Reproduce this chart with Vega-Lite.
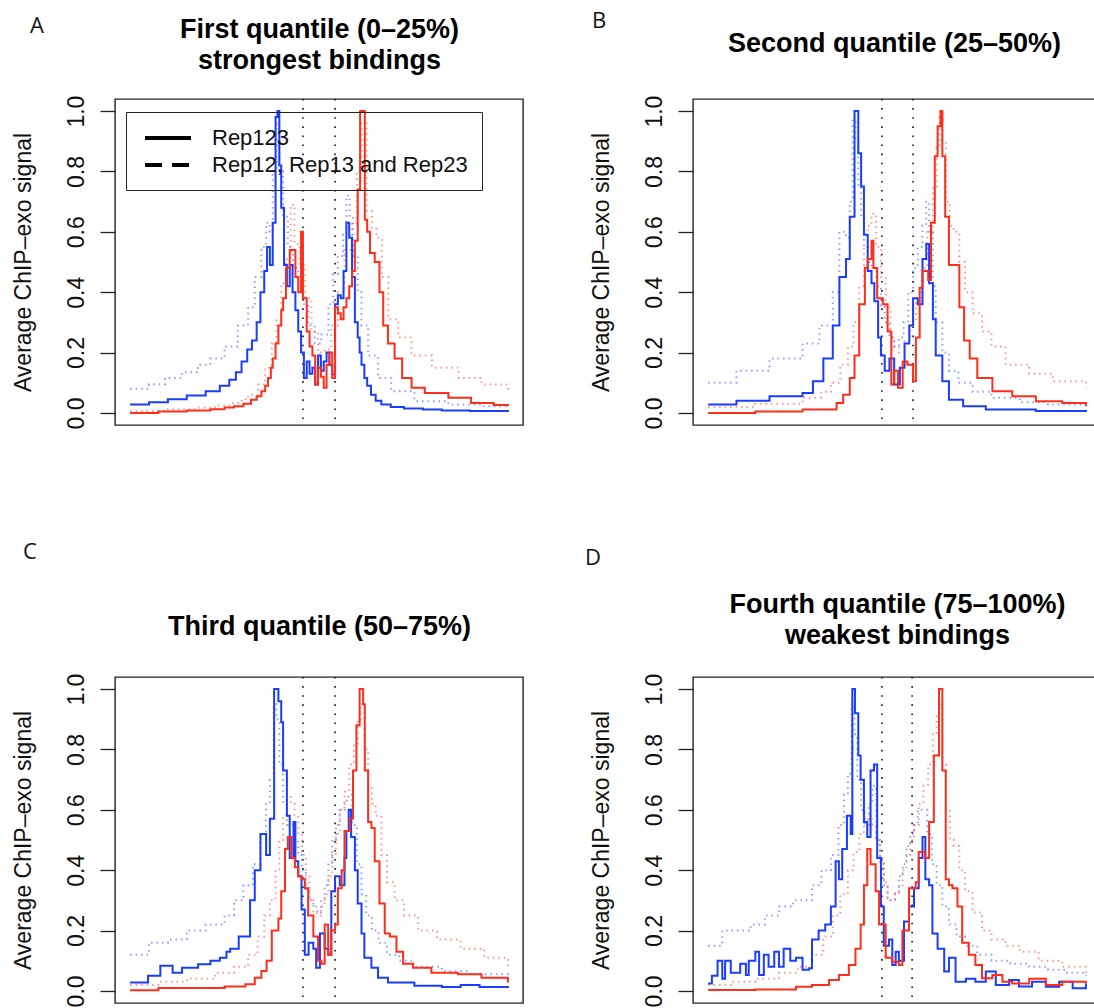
{
"$schema": "https://vega.github.io/schema/vega-lite/v6.json",
"background": "white",
"padding": {"left": 11, "top": 8, "right": 0, "bottom": 0},
"data": {"values": [
{"p":"A","c":"b","t":"d","x":-200,"y":0.08},{"p":"A","c":"b","t":"d","x":-180,"y":0.095},{"p":"A","c":"b","t":"d","x":-163,"y":0.116},{"p":"A","c":"b","t":"d","x":-145,"y":0.135},{"p":"A","c":"b","t":"d","x":-128,"y":0.16},{"p":"A","c":"b","t":"d","x":-115,"y":0.18},{"p":"A","c":"b","t":"d","x":-100,"y":0.22},{"p":"A","c":"b","t":"d","x":-86,"y":0.29},{"p":"A","c":"b","t":"d","x":-75,"y":0.35},{"p":"A","c":"b","t":"d","x":-68,"y":0.45},{"p":"A","c":"b","t":"d","x":-61,"y":0.55},{"p":"A","c":"b","t":"d","x":-56,"y":0.63},{"p":"A","c":"b","t":"d","x":-52,"y":0.6},{"p":"A","c":"b","t":"d","x":-49,"y":0.8},{"p":"A","c":"b","t":"d","x":-45,"y":0.96},{"p":"A","c":"b","t":"d","x":-42,"y":0.8},{"p":"A","c":"b","t":"d","x":-38,"y":0.65},{"p":"A","c":"b","t":"d","x":-33,"y":0.55},{"p":"A","c":"b","t":"d","x":-27.5,"y":0.48},{"p":"A","c":"b","t":"d","x":-22,"y":0.43},{"p":"A","c":"b","t":"d","x":-17,"y":0.36},{"p":"A","c":"b","t":"d","x":-11.5,"y":0.29},{"p":"A","c":"b","t":"d","x":-4.5,"y":0.23},{"p":"A","c":"b","t":"d","x":2.5,"y":0.26},{"p":"A","c":"b","t":"d","x":10,"y":0.36},{"p":"A","c":"b","t":"d","x":15,"y":0.46},{"p":"A","c":"b","t":"d","x":20,"y":0.52},{"p":"A","c":"b","t":"d","x":25.5,"y":0.59},{"p":"A","c":"b","t":"d","x":29,"y":0.72},{"p":"A","c":"b","t":"d","x":32.5,"y":0.65},{"p":"A","c":"b","t":"d","x":36,"y":0.52},{"p":"A","c":"b","t":"d","x":41,"y":0.4},{"p":"A","c":"b","t":"d","x":45,"y":0.29},{"p":"A","c":"b","t":"d","x":52,"y":0.19},{"p":"A","c":"b","t":"d","x":62.5,"y":0.116},{"p":"A","c":"b","t":"d","x":76.5,"y":0.072},{"p":"A","c":"b","t":"d","x":101,"y":0.039},{"p":"A","c":"b","t":"d","x":137,"y":0.028},{"p":"A","c":"b","t":"d","x":172,"y":0.022},{"p":"A","c":"b","t":"d","x":200,"y":0.017},
{"p":"A","c":"r","t":"d","x":-200,"y":0.006},{"p":"A","c":"r","t":"d","x":-160,"y":0.012},{"p":"A","c":"r","t":"d","x":-128,"y":0.017},{"p":"A","c":"r","t":"d","x":-110,"y":0.025},{"p":"A","c":"r","t":"d","x":-93,"y":0.033},{"p":"A","c":"r","t":"d","x":-82,"y":0.045},{"p":"A","c":"r","t":"d","x":-75,"y":0.06},{"p":"A","c":"r","t":"d","x":-64.5,"y":0.094},{"p":"A","c":"r","t":"d","x":-57,"y":0.15},{"p":"A","c":"r","t":"d","x":-50,"y":0.23},{"p":"A","c":"r","t":"d","x":-45,"y":0.31},{"p":"A","c":"r","t":"d","x":-40,"y":0.43},{"p":"A","c":"r","t":"d","x":-35,"y":0.51},{"p":"A","c":"r","t":"d","x":-30,"y":0.69},{"p":"A","c":"r","t":"d","x":-26,"y":0.56},{"p":"A","c":"r","t":"d","x":-20.5,"y":0.49},{"p":"A","c":"r","t":"d","x":-15,"y":0.38},{"p":"A","c":"r","t":"d","x":-8,"y":0.27},{"p":"A","c":"r","t":"d","x":-1,"y":0.2},{"p":"A","c":"r","t":"d","x":6,"y":0.21},{"p":"A","c":"r","t":"d","x":13,"y":0.29},{"p":"A","c":"r","t":"d","x":20,"y":0.4},{"p":"A","c":"r","t":"d","x":27,"y":0.54},{"p":"A","c":"r","t":"d","x":34.5,"y":0.63},{"p":"A","c":"r","t":"d","x":40,"y":0.8},{"p":"A","c":"r","t":"d","x":45,"y":0.96},{"p":"A","c":"r","t":"d","x":50.5,"y":0.67},{"p":"A","c":"r","t":"d","x":56,"y":0.61},{"p":"A","c":"r","t":"d","x":61,"y":0.58},{"p":"A","c":"r","t":"d","x":66.5,"y":0.45},{"p":"A","c":"r","t":"d","x":73.5,"y":0.31},{"p":"A","c":"r","t":"d","x":84,"y":0.25},{"p":"A","c":"r","t":"d","x":98,"y":0.19},{"p":"A","c":"r","t":"d","x":119.5,"y":0.15},{"p":"A","c":"r","t":"d","x":148,"y":0.116},{"p":"A","c":"r","t":"d","x":172,"y":0.094},{"p":"A","c":"r","t":"d","x":200,"y":0.072},
{"p":"A","c":"b","t":"s","x":-200,"y":0.028},{"p":"A","c":"b","t":"s","x":-180,"y":0.035},{"p":"A","c":"b","t":"s","x":-160,"y":0.045},{"p":"A","c":"b","t":"s","x":-140,"y":0.058},{"p":"A","c":"b","t":"s","x":-120,"y":0.072},{"p":"A","c":"b","t":"s","x":-105,"y":0.09},{"p":"A","c":"b","t":"s","x":-95,"y":0.11},{"p":"A","c":"b","t":"s","x":-88,"y":0.135},{"p":"A","c":"b","t":"s","x":-82,"y":0.17},{"p":"A","c":"b","t":"s","x":-76,"y":0.21},{"p":"A","c":"b","t":"s","x":-71,"y":0.24},{"p":"A","c":"b","t":"s","x":-66,"y":0.3},{"p":"A","c":"b","t":"s","x":-62,"y":0.4},{"p":"A","c":"b","t":"s","x":-58,"y":0.47},{"p":"A","c":"b","t":"s","x":-55,"y":0.55},{"p":"A","c":"b","t":"s","x":-52,"y":0.49},{"p":"A","c":"b","t":"s","x":-49,"y":0.63},{"p":"A","c":"b","t":"s","x":-46,"y":0.98},{"p":"A","c":"b","t":"s","x":-44,"y":1.0},{"p":"A","c":"b","t":"s","x":-42,"y":0.82},{"p":"A","c":"b","t":"s","x":-40,"y":0.68},{"p":"A","c":"b","t":"s","x":-37,"y":0.49},{"p":"A","c":"b","t":"s","x":-34,"y":0.42},{"p":"A","c":"b","t":"s","x":-31,"y":0.49},{"p":"A","c":"b","t":"s","x":-28,"y":0.4},{"p":"A","c":"b","t":"s","x":-25,"y":0.34},{"p":"A","c":"b","t":"s","x":-22,"y":0.27},{"p":"A","c":"b","t":"s","x":-19,"y":0.2},{"p":"A","c":"b","t":"s","x":-16,"y":0.116},{"p":"A","c":"b","t":"s","x":-13,"y":0.17},{"p":"A","c":"b","t":"s","x":-10,"y":0.13},{"p":"A","c":"b","t":"s","x":-7,"y":0.15},{"p":"A","c":"b","t":"s","x":-4,"y":0.094},{"p":"A","c":"b","t":"s","x":-1,"y":0.19},{"p":"A","c":"b","t":"s","x":2,"y":0.14},{"p":"A","c":"b","t":"s","x":5,"y":0.17},{"p":"A","c":"b","t":"s","x":8,"y":0.2},{"p":"A","c":"b","t":"s","x":11,"y":0.16},{"p":"A","c":"b","t":"s","x":14,"y":0.127},{"p":"A","c":"b","t":"s","x":17,"y":0.36},{"p":"A","c":"b","t":"s","x":20,"y":0.39},{"p":"A","c":"b","t":"s","x":23,"y":0.38},{"p":"A","c":"b","t":"s","x":26,"y":0.47},{"p":"A","c":"b","t":"s","x":29,"y":0.63},{"p":"A","c":"b","t":"s","x":32,"y":0.58},{"p":"A","c":"b","t":"s","x":35,"y":0.45},{"p":"A","c":"b","t":"s","x":38,"y":0.3},{"p":"A","c":"b","t":"s","x":41,"y":0.25},{"p":"A","c":"b","t":"s","x":43,"y":0.2},{"p":"A","c":"b","t":"s","x":45,"y":0.16},{"p":"A","c":"b","t":"s","x":48,"y":0.116},{"p":"A","c":"b","t":"s","x":51,"y":0.09},{"p":"A","c":"b","t":"s","x":55,"y":0.06},{"p":"A","c":"b","t":"s","x":60,"y":0.04},{"p":"A","c":"b","t":"s","x":66,"y":0.028},{"p":"A","c":"b","t":"s","x":76,"y":0.02},{"p":"A","c":"b","t":"s","x":90,"y":0.015},{"p":"A","c":"b","t":"s","x":110,"y":0.011},{"p":"A","c":"b","t":"s","x":130,"y":0.008},{"p":"A","c":"b","t":"s","x":160,"y":0.006},{"p":"A","c":"b","t":"s","x":200,"y":0.003},
{"p":"A","c":"r","t":"s","x":-200,"y":0.0},{"p":"A","c":"r","t":"s","x":-170,"y":0.005},{"p":"A","c":"r","t":"s","x":-140,"y":0.008},{"p":"A","c":"r","t":"s","x":-115,"y":0.012},{"p":"A","c":"r","t":"s","x":-100,"y":0.018},{"p":"A","c":"r","t":"s","x":-90,"y":0.022},{"p":"A","c":"r","t":"s","x":-80,"y":0.03},{"p":"A","c":"r","t":"s","x":-72,"y":0.044},{"p":"A","c":"r","t":"s","x":-66,"y":0.055},{"p":"A","c":"r","t":"s","x":-61,"y":0.072},{"p":"A","c":"r","t":"s","x":-57,"y":0.09},{"p":"A","c":"r","t":"s","x":-54,"y":0.116},{"p":"A","c":"r","t":"s","x":-51,"y":0.15},{"p":"A","c":"r","t":"s","x":-49,"y":0.18},{"p":"A","c":"r","t":"s","x":-46,"y":0.23},{"p":"A","c":"r","t":"s","x":-43,"y":0.29},{"p":"A","c":"r","t":"s","x":-40,"y":0.34},{"p":"A","c":"r","t":"s","x":-38,"y":0.38},{"p":"A","c":"r","t":"s","x":-35,"y":0.48},{"p":"A","c":"r","t":"s","x":-31,"y":0.54},{"p":"A","c":"r","t":"s","x":-28,"y":0.54},{"p":"A","c":"r","t":"s","x":-25,"y":0.45},{"p":"A","c":"r","t":"s","x":-22,"y":0.4},{"p":"A","c":"r","t":"s","x":-19,"y":0.6},{"p":"A","c":"r","t":"s","x":-17,"y":0.38},{"p":"A","c":"r","t":"s","x":-13,"y":0.27},{"p":"A","c":"r","t":"s","x":-10,"y":0.22},{"p":"A","c":"r","t":"s","x":-7,"y":0.19},{"p":"A","c":"r","t":"s","x":-4,"y":0.094},{"p":"A","c":"r","t":"s","x":-1,"y":0.15},{"p":"A","c":"r","t":"s","x":2,"y":0.12},{"p":"A","c":"r","t":"s","x":5,"y":0.083},{"p":"A","c":"r","t":"s","x":8,"y":0.16},{"p":"A","c":"r","t":"s","x":11,"y":0.2},{"p":"A","c":"r","t":"s","x":14,"y":0.116},{"p":"A","c":"r","t":"s","x":17,"y":0.35},{"p":"A","c":"r","t":"s","x":20,"y":0.33},{"p":"A","c":"r","t":"s","x":23,"y":0.31},{"p":"A","c":"r","t":"s","x":26,"y":0.35},{"p":"A","c":"r","t":"s","x":29,"y":0.38},{"p":"A","c":"r","t":"s","x":32,"y":0.42},{"p":"A","c":"r","t":"s","x":35,"y":0.47},{"p":"A","c":"r","t":"s","x":38,"y":0.57},{"p":"A","c":"r","t":"s","x":41,"y":0.74},{"p":"A","c":"r","t":"s","x":43.5,"y":1.0},{"p":"A","c":"r","t":"s","x":48.5,"y":0.64},{"p":"A","c":"r","t":"s","x":51,"y":0.6},{"p":"A","c":"r","t":"s","x":54,"y":0.53},{"p":"A","c":"r","t":"s","x":59,"y":0.5},{"p":"A","c":"r","t":"s","x":64,"y":0.4},{"p":"A","c":"r","t":"s","x":68,"y":0.29},{"p":"A","c":"r","t":"s","x":73,"y":0.23},{"p":"A","c":"r","t":"s","x":80,"y":0.18},{"p":"A","c":"r","t":"s","x":88,"y":0.116},{"p":"A","c":"r","t":"s","x":98,"y":0.083},{"p":"A","c":"r","t":"s","x":112,"y":0.066},{"p":"A","c":"r","t":"s","x":137,"y":0.05},{"p":"A","c":"r","t":"s","x":161,"y":0.033},{"p":"A","c":"r","t":"s","x":185,"y":0.026},{"p":"A","c":"r","t":"s","x":200,"y":0.022},
{"p":"A","c":"k","t":"v","x":-17},{"p":"A","c":"k","t":"v","x":17},
{"p":"B","c":"b","t":"d","x":-200,"y":0.1},{"p":"B","c":"b","t":"d","x":-170,"y":0.14},{"p":"B","c":"b","t":"d","x":-135,"y":0.18},{"p":"B","c":"b","t":"d","x":-100,"y":0.23},{"p":"B","c":"b","t":"d","x":-82,"y":0.29},{"p":"B","c":"b","t":"d","x":-68,"y":0.4},{"p":"B","c":"b","t":"d","x":-61,"y":0.6},{"p":"B","c":"b","t":"d","x":-54,"y":0.58},{"p":"B","c":"b","t":"d","x":-50,"y":0.7},{"p":"B","c":"b","t":"d","x":-47,"y":0.98},{"p":"B","c":"b","t":"d","x":-44,"y":0.9},{"p":"B","c":"b","t":"d","x":-41,"y":0.75},{"p":"B","c":"b","t":"d","x":-38,"y":0.65},{"p":"B","c":"b","t":"d","x":-35,"y":0.55},{"p":"B","c":"b","t":"d","x":-31,"y":0.5},{"p":"B","c":"b","t":"d","x":-27,"y":0.47},{"p":"B","c":"b","t":"d","x":-22,"y":0.42},{"p":"B","c":"b","t":"d","x":-17,"y":0.35},{"p":"B","c":"b","t":"d","x":-13,"y":0.3},{"p":"B","c":"b","t":"d","x":-8,"y":0.25},{"p":"B","c":"b","t":"d","x":-3,"y":0.22},{"p":"B","c":"b","t":"d","x":2,"y":0.25},{"p":"B","c":"b","t":"d","x":7,"y":0.3},{"p":"B","c":"b","t":"d","x":12,"y":0.4},{"p":"B","c":"b","t":"d","x":17,"y":0.48},{"p":"B","c":"b","t":"d","x":22,"y":0.55},{"p":"B","c":"b","t":"d","x":27,"y":0.62},{"p":"B","c":"b","t":"d","x":31,"y":0.7},{"p":"B","c":"b","t":"d","x":34,"y":0.6},{"p":"B","c":"b","t":"d","x":38,"y":0.42},{"p":"B","c":"b","t":"d","x":41,"y":0.3},{"p":"B","c":"b","t":"d","x":48,"y":0.2},{"p":"B","c":"b","t":"d","x":55,"y":0.14},{"p":"B","c":"b","t":"d","x":65,"y":0.1},{"p":"B","c":"b","t":"d","x":80,"y":0.07},{"p":"B","c":"b","t":"d","x":100,"y":0.05},{"p":"B","c":"b","t":"d","x":130,"y":0.035},{"p":"B","c":"b","t":"d","x":160,"y":0.028},{"p":"B","c":"b","t":"d","x":200,"y":0.02},
{"p":"B","c":"r","t":"d","x":-200,"y":0.02},{"p":"B","c":"r","t":"d","x":-150,"y":0.03},{"p":"B","c":"r","t":"d","x":-100,"y":0.05},{"p":"B","c":"r","t":"d","x":-80,"y":0.07},{"p":"B","c":"r","t":"d","x":-70,"y":0.1},{"p":"B","c":"r","t":"d","x":-60,"y":0.16},{"p":"B","c":"r","t":"d","x":-52,"y":0.22},{"p":"B","c":"r","t":"d","x":-46,"y":0.3},{"p":"B","c":"r","t":"d","x":-40,"y":0.42},{"p":"B","c":"r","t":"d","x":-35,"y":0.55},{"p":"B","c":"r","t":"d","x":-31,"y":0.62},{"p":"B","c":"r","t":"d","x":-27,"y":0.66},{"p":"B","c":"r","t":"d","x":-22,"y":0.55},{"p":"B","c":"r","t":"d","x":-17,"y":0.45},{"p":"B","c":"r","t":"d","x":-12,"y":0.35},{"p":"B","c":"r","t":"d","x":-7,"y":0.25},{"p":"B","c":"r","t":"d","x":-3,"y":0.22},{"p":"B","c":"r","t":"d","x":2,"y":0.2},{"p":"B","c":"r","t":"d","x":8,"y":0.24},{"p":"B","c":"r","t":"d","x":14,"y":0.3},{"p":"B","c":"r","t":"d","x":20,"y":0.38},{"p":"B","c":"r","t":"d","x":26,"y":0.48},{"p":"B","c":"r","t":"d","x":32,"y":0.6},{"p":"B","c":"r","t":"d","x":38,"y":0.75},{"p":"B","c":"r","t":"d","x":42,"y":0.88},{"p":"B","c":"r","t":"d","x":45,"y":0.98},{"p":"B","c":"r","t":"d","x":48,"y":0.9},{"p":"B","c":"r","t":"d","x":52,"y":0.7},{"p":"B","c":"r","t":"d","x":56,"y":0.62},{"p":"B","c":"r","t":"d","x":60,"y":0.6},{"p":"B","c":"r","t":"d","x":66,"y":0.5},{"p":"B","c":"r","t":"d","x":72,"y":0.4},{"p":"B","c":"r","t":"d","x":80,"y":0.33},{"p":"B","c":"r","t":"d","x":90,"y":0.27},{"p":"B","c":"r","t":"d","x":100,"y":0.22},{"p":"B","c":"r","t":"d","x":115,"y":0.16},{"p":"B","c":"r","t":"d","x":140,"y":0.13},{"p":"B","c":"r","t":"d","x":165,"y":0.105},{"p":"B","c":"r","t":"d","x":200,"y":0.083},
{"p":"B","c":"b","t":"s","x":-200,"y":0.028},{"p":"B","c":"b","t":"s","x":-170,"y":0.04},{"p":"B","c":"b","t":"s","x":-135,"y":0.055},{"p":"B","c":"b","t":"s","x":-100,"y":0.066},{"p":"B","c":"b","t":"s","x":-89,"y":0.105},{"p":"B","c":"b","t":"s","x":-78,"y":0.18},{"p":"B","c":"b","t":"s","x":-68,"y":0.29},{"p":"B","c":"b","t":"s","x":-61,"y":0.45},{"p":"B","c":"b","t":"s","x":-54,"y":0.51},{"p":"B","c":"b","t":"s","x":-50,"y":0.65},{"p":"B","c":"b","t":"s","x":-45,"y":1.0},{"p":"B","c":"b","t":"s","x":-41,"y":0.86},{"p":"B","c":"b","t":"s","x":-38,"y":0.75},{"p":"B","c":"b","t":"s","x":-35,"y":0.59},{"p":"B","c":"b","t":"s","x":-31,"y":0.47},{"p":"B","c":"b","t":"s","x":-27,"y":0.43},{"p":"B","c":"b","t":"s","x":-24,"y":0.37},{"p":"B","c":"b","t":"s","x":-20,"y":0.25},{"p":"B","c":"b","t":"s","x":-17,"y":0.19},{"p":"B","c":"b","t":"s","x":-13,"y":0.14},{"p":"B","c":"b","t":"s","x":-8,"y":0.18},{"p":"B","c":"b","t":"s","x":-3,"y":0.094},{"p":"B","c":"b","t":"s","x":3,"y":0.15},{"p":"B","c":"b","t":"s","x":8,"y":0.23},{"p":"B","c":"b","t":"s","x":13,"y":0.29},{"p":"B","c":"b","t":"s","x":17,"y":0.38},{"p":"B","c":"b","t":"s","x":22,"y":0.36},{"p":"B","c":"b","t":"s","x":27,"y":0.51},{"p":"B","c":"b","t":"s","x":31,"y":0.56},{"p":"B","c":"b","t":"s","x":34,"y":0.43},{"p":"B","c":"b","t":"s","x":38,"y":0.31},{"p":"B","c":"b","t":"s","x":41,"y":0.19},{"p":"B","c":"b","t":"s","x":48,"y":0.105},{"p":"B","c":"b","t":"s","x":55,"y":0.044},{"p":"B","c":"b","t":"s","x":70,"y":0.022},{"p":"B","c":"b","t":"s","x":94,"y":0.011},{"p":"B","c":"b","t":"s","x":147,"y":0.006},{"p":"B","c":"b","t":"s","x":200,"y":0.003},
{"p":"B","c":"r","t":"s","x":-200,"y":0.0},{"p":"B","c":"r","t":"s","x":-150,"y":0.005},{"p":"B","c":"r","t":"s","x":-100,"y":0.011},{"p":"B","c":"r","t":"s","x":-64,"y":0.033},{"p":"B","c":"r","t":"s","x":-57,"y":0.06},{"p":"B","c":"r","t":"s","x":-50,"y":0.116},{"p":"B","c":"r","t":"s","x":-45,"y":0.19},{"p":"B","c":"r","t":"s","x":-40,"y":0.36},{"p":"B","c":"r","t":"s","x":-34,"y":0.48},{"p":"B","c":"r","t":"s","x":-31,"y":0.51},{"p":"B","c":"r","t":"s","x":-27,"y":0.57},{"p":"B","c":"r","t":"s","x":-25,"y":0.48},{"p":"B","c":"r","t":"s","x":-21,"y":0.38},{"p":"B","c":"r","t":"s","x":-15,"y":0.36},{"p":"B","c":"r","t":"s","x":-10,"y":0.27},{"p":"B","c":"r","t":"s","x":-6,"y":0.094},{"p":"B","c":"r","t":"s","x":-3,"y":0.14},{"p":"B","c":"r","t":"s","x":1,"y":0.083},{"p":"B","c":"r","t":"s","x":6,"y":0.17},{"p":"B","c":"r","t":"s","x":11,"y":0.16},{"p":"B","c":"r","t":"s","x":17,"y":0.105},{"p":"B","c":"r","t":"s","x":20,"y":0.25},{"p":"B","c":"r","t":"s","x":24,"y":0.415},{"p":"B","c":"r","t":"s","x":27,"y":0.47},{"p":"B","c":"r","t":"s","x":33,"y":0.44},{"p":"B","c":"r","t":"s","x":36,"y":0.63},{"p":"B","c":"r","t":"s","x":40,"y":0.85},{"p":"B","c":"r","t":"s","x":43,"y":0.95},{"p":"B","c":"r","t":"s","x":46,"y":1.0},{"p":"B","c":"r","t":"s","x":48,"y":0.85},{"p":"B","c":"r","t":"s","x":51,"y":0.65},{"p":"B","c":"r","t":"s","x":55,"y":0.49},{"p":"B","c":"r","t":"s","x":62,"y":0.49},{"p":"B","c":"r","t":"s","x":66,"y":0.35},{"p":"B","c":"r","t":"s","x":71,"y":0.24},{"p":"B","c":"r","t":"s","x":77,"y":0.18},{"p":"B","c":"r","t":"s","x":85,"y":0.116},{"p":"B","c":"r","t":"s","x":101,"y":0.072},{"p":"B","c":"r","t":"s","x":122,"y":0.055},{"p":"B","c":"r","t":"s","x":147,"y":0.039},{"p":"B","c":"r","t":"s","x":175,"y":0.033},{"p":"B","c":"r","t":"s","x":200,"y":0.022},
{"p":"B","c":"k","t":"v","x":-16},{"p":"B","c":"k","t":"v","x":17},
{"p":"C","c":"b","t":"d","x":-200,"y":0.12},{"p":"C","c":"b","t":"d","x":-180,"y":0.16},{"p":"C","c":"b","t":"d","x":-160,"y":0.17},{"p":"C","c":"b","t":"d","x":-140,"y":0.2},{"p":"C","c":"b","t":"d","x":-120,"y":0.22},{"p":"C","c":"b","t":"d","x":-100,"y":0.25},{"p":"C","c":"b","t":"d","x":-90,"y":0.3},{"p":"C","c":"b","t":"d","x":-80,"y":0.35},{"p":"C","c":"b","t":"d","x":-70,"y":0.42},{"p":"C","c":"b","t":"d","x":-62,"y":0.52},{"p":"C","c":"b","t":"d","x":-56,"y":0.62},{"p":"C","c":"b","t":"d","x":-52,"y":0.7},{"p":"C","c":"b","t":"d","x":-48,"y":0.95},{"p":"C","c":"b","t":"d","x":-45,"y":0.9},{"p":"C","c":"b","t":"d","x":-42,"y":0.75},{"p":"C","c":"b","t":"d","x":-38,"y":0.62},{"p":"C","c":"b","t":"d","x":-34,"y":0.55},{"p":"C","c":"b","t":"d","x":-30,"y":0.55},{"p":"C","c":"b","t":"d","x":-26,"y":0.5},{"p":"C","c":"b","t":"d","x":-22,"y":0.45},{"p":"C","c":"b","t":"d","x":-18,"y":0.4},{"p":"C","c":"b","t":"d","x":-14,"y":0.33},{"p":"C","c":"b","t":"d","x":-10,"y":0.3},{"p":"C","c":"b","t":"d","x":-6,"y":0.28},{"p":"C","c":"b","t":"d","x":-2,"y":0.26},{"p":"C","c":"b","t":"d","x":2,"y":0.3},{"p":"C","c":"b","t":"d","x":6,"y":0.35},{"p":"C","c":"b","t":"d","x":10,"y":0.42},{"p":"C","c":"b","t":"d","x":14,"y":0.5},{"p":"C","c":"b","t":"d","x":18,"y":0.55},{"p":"C","c":"b","t":"d","x":22,"y":0.6},{"p":"C","c":"b","t":"d","x":27,"y":0.63},{"p":"C","c":"b","t":"d","x":31,"y":0.65},{"p":"C","c":"b","t":"d","x":35,"y":0.55},{"p":"C","c":"b","t":"d","x":40,"y":0.42},{"p":"C","c":"b","t":"d","x":45,"y":0.32},{"p":"C","c":"b","t":"d","x":50,"y":0.25},{"p":"C","c":"b","t":"d","x":56,"y":0.2},{"p":"C","c":"b","t":"d","x":63,"y":0.16},{"p":"C","c":"b","t":"d","x":72,"y":0.12},{"p":"C","c":"b","t":"d","x":85,"y":0.1},{"p":"C","c":"b","t":"d","x":100,"y":0.08},{"p":"C","c":"b","t":"d","x":130,"y":0.065},{"p":"C","c":"b","t":"d","x":160,"y":0.055},{"p":"C","c":"b","t":"d","x":200,"y":0.05},
{"p":"C","c":"r","t":"d","x":-200,"y":0.02},{"p":"C","c":"r","t":"d","x":-170,"y":0.03},{"p":"C","c":"r","t":"d","x":-140,"y":0.04},{"p":"C","c":"r","t":"d","x":-110,"y":0.06},{"p":"C","c":"r","t":"d","x":-90,"y":0.08},{"p":"C","c":"r","t":"d","x":-75,"y":0.12},{"p":"C","c":"r","t":"d","x":-65,"y":0.18},{"p":"C","c":"r","t":"d","x":-58,"y":0.25},{"p":"C","c":"r","t":"d","x":-52,"y":0.3},{"p":"C","c":"r","t":"d","x":-46,"y":0.4},{"p":"C","c":"r","t":"d","x":-42,"y":0.5},{"p":"C","c":"r","t":"d","x":-38,"y":0.58},{"p":"C","c":"r","t":"d","x":-34,"y":0.65},{"p":"C","c":"r","t":"d","x":-30,"y":0.62},{"p":"C","c":"r","t":"d","x":-26,"y":0.58},{"p":"C","c":"r","t":"d","x":-22,"y":0.52},{"p":"C","c":"r","t":"d","x":-18,"y":0.45},{"p":"C","c":"r","t":"d","x":-14,"y":0.38},{"p":"C","c":"r","t":"d","x":-10,"y":0.3},{"p":"C","c":"r","t":"d","x":-6,"y":0.26},{"p":"C","c":"r","t":"d","x":-2,"y":0.25},{"p":"C","c":"r","t":"d","x":2,"y":0.28},{"p":"C","c":"r","t":"d","x":6,"y":0.32},{"p":"C","c":"r","t":"d","x":10,"y":0.38},{"p":"C","c":"r","t":"d","x":14,"y":0.45},{"p":"C","c":"r","t":"d","x":18,"y":0.52},{"p":"C","c":"r","t":"d","x":22,"y":0.6},{"p":"C","c":"r","t":"d","x":27,"y":0.66},{"p":"C","c":"r","t":"d","x":32,"y":0.75},{"p":"C","c":"r","t":"d","x":37,"y":0.82},{"p":"C","c":"r","t":"d","x":41,"y":0.9},{"p":"C","c":"r","t":"d","x":44,"y":0.95},{"p":"C","c":"r","t":"d","x":48,"y":0.8},{"p":"C","c":"r","t":"d","x":52,"y":0.68},{"p":"C","c":"r","t":"d","x":56,"y":0.62},{"p":"C","c":"r","t":"d","x":60,"y":0.58},{"p":"C","c":"r","t":"d","x":66,"y":0.45},{"p":"C","c":"r","t":"d","x":72,"y":0.36},{"p":"C","c":"r","t":"d","x":80,"y":0.3},{"p":"C","c":"r","t":"d","x":90,"y":0.25},{"p":"C","c":"r","t":"d","x":105,"y":0.2},{"p":"C","c":"r","t":"d","x":125,"y":0.17},{"p":"C","c":"r","t":"d","x":150,"y":0.14},{"p":"C","c":"r","t":"d","x":175,"y":0.11},{"p":"C","c":"r","t":"d","x":200,"y":0.08},
{"p":"C","c":"b","t":"s","x":-200,"y":0.028},{"p":"C","c":"b","t":"s","x":-181,"y":0.05},{"p":"C","c":"b","t":"s","x":-168,"y":0.083},{"p":"C","c":"b","t":"s","x":-155,"y":0.06},{"p":"C","c":"b","t":"s","x":-145,"y":0.077},{"p":"C","c":"b","t":"s","x":-128,"y":0.088},{"p":"C","c":"b","t":"s","x":-115,"y":0.1},{"p":"C","c":"b","t":"s","x":-105,"y":0.11},{"p":"C","c":"b","t":"s","x":-98,"y":0.13},{"p":"C","c":"b","t":"s","x":-94,"y":0.14},{"p":"C","c":"b","t":"s","x":-85,"y":0.18},{"p":"C","c":"b","t":"s","x":-78,"y":0.18},{"p":"C","c":"b","t":"s","x":-73,"y":0.3},{"p":"C","c":"b","t":"s","x":-68,"y":0.4},{"p":"C","c":"b","t":"s","x":-62,"y":0.52},{"p":"C","c":"b","t":"s","x":-56,"y":0.45},{"p":"C","c":"b","t":"s","x":-52,"y":0.57},{"p":"C","c":"b","t":"s","x":-47.5,"y":1.0},{"p":"C","c":"b","t":"s","x":-43,"y":0.96},{"p":"C","c":"b","t":"s","x":-40,"y":0.89},{"p":"C","c":"b","t":"s","x":-38,"y":0.73},{"p":"C","c":"b","t":"s","x":-34,"y":0.58},{"p":"C","c":"b","t":"s","x":-31,"y":0.44},{"p":"C","c":"b","t":"s","x":-27,"y":0.56},{"p":"C","c":"b","t":"s","x":-25,"y":0.43},{"p":"C","c":"b","t":"s","x":-22,"y":0.38},{"p":"C","c":"b","t":"s","x":-18.5,"y":0.27},{"p":"C","c":"b","t":"s","x":-15,"y":0.12},{"p":"C","c":"b","t":"s","x":-11,"y":0.16},{"p":"C","c":"b","t":"s","x":-6,"y":0.14},{"p":"C","c":"b","t":"s","x":-3,"y":0.077},{"p":"C","c":"b","t":"s","x":1,"y":0.19},{"p":"C","c":"b","t":"s","x":6,"y":0.14},{"p":"C","c":"b","t":"s","x":10,"y":0.12},{"p":"C","c":"b","t":"s","x":13,"y":0.33},{"p":"C","c":"b","t":"s","x":17,"y":0.38},{"p":"C","c":"b","t":"s","x":22,"y":0.35},{"p":"C","c":"b","t":"s","x":27,"y":0.44},{"p":"C","c":"b","t":"s","x":29,"y":0.53},{"p":"C","c":"b","t":"s","x":31.5,"y":0.6},{"p":"C","c":"b","t":"s","x":34,"y":0.51},{"p":"C","c":"b","t":"s","x":38,"y":0.4},{"p":"C","c":"b","t":"s","x":41,"y":0.29},{"p":"C","c":"b","t":"s","x":45,"y":0.19},{"p":"C","c":"b","t":"s","x":48,"y":0.11},{"p":"C","c":"b","t":"s","x":55.5,"y":0.077},{"p":"C","c":"b","t":"s","x":62.5,"y":0.044},{"p":"C","c":"b","t":"s","x":73,"y":0.028},{"p":"C","c":"b","t":"s","x":101,"y":0.017},{"p":"C","c":"b","t":"s","x":130,"y":0.013},{"p":"C","c":"b","t":"s","x":150,"y":0.02},{"p":"C","c":"b","t":"s","x":170,"y":0.013},{"p":"C","c":"b","t":"s","x":200,"y":0.01},
{"p":"C","c":"r","t":"s","x":-200,"y":0.002},{"p":"C","c":"r","t":"s","x":-170,"y":0.01},{"p":"C","c":"r","t":"s","x":-130,"y":0.01},{"p":"C","c":"r","t":"s","x":-100,"y":0.015},{"p":"C","c":"r","t":"s","x":-78,"y":0.022},{"p":"C","c":"r","t":"s","x":-68,"y":0.044},{"p":"C","c":"r","t":"s","x":-61,"y":0.066},{"p":"C","c":"r","t":"s","x":-55.5,"y":0.1},{"p":"C","c":"r","t":"s","x":-50,"y":0.2},{"p":"C","c":"r","t":"s","x":-43,"y":0.24},{"p":"C","c":"r","t":"s","x":-40,"y":0.33},{"p":"C","c":"r","t":"s","x":-36,"y":0.47},{"p":"C","c":"r","t":"s","x":-33,"y":0.51},{"p":"C","c":"r","t":"s","x":-29,"y":0.44},{"p":"C","c":"r","t":"s","x":-25.5,"y":0.41},{"p":"C","c":"r","t":"s","x":-22,"y":0.38},{"p":"C","c":"r","t":"s","x":-18.5,"y":0.37},{"p":"C","c":"r","t":"s","x":-15,"y":0.34},{"p":"C","c":"r","t":"s","x":-11.5,"y":0.25},{"p":"C","c":"r","t":"s","x":-6,"y":0.18},{"p":"C","c":"r","t":"s","x":-1,"y":0.1},{"p":"C","c":"r","t":"s","x":2.6,"y":0.09},{"p":"C","c":"r","t":"s","x":6,"y":0.22},{"p":"C","c":"r","t":"s","x":9.7,"y":0.12},{"p":"C","c":"r","t":"s","x":13,"y":0.2},{"p":"C","c":"r","t":"s","x":17,"y":0.22},{"p":"C","c":"r","t":"s","x":20,"y":0.34},{"p":"C","c":"r","t":"s","x":24,"y":0.4},{"p":"C","c":"r","t":"s","x":27,"y":0.53},{"p":"C","c":"r","t":"s","x":32.6,"y":0.57},{"p":"C","c":"r","t":"s","x":36,"y":0.73},{"p":"C","c":"r","t":"s","x":39.6,"y":0.88},{"p":"C","c":"r","t":"s","x":43,"y":1.0},{"p":"C","c":"r","t":"s","x":46.7,"y":0.95},{"p":"C","c":"r","t":"s","x":48.5,"y":0.73},{"p":"C","c":"r","t":"s","x":52,"y":0.56},{"p":"C","c":"r","t":"s","x":55.5,"y":0.54},{"p":"C","c":"r","t":"s","x":59,"y":0.43},{"p":"C","c":"r","t":"s","x":64,"y":0.29},{"p":"C","c":"r","t":"s","x":69.6,"y":0.19},{"p":"C","c":"r","t":"s","x":75,"y":0.18},{"p":"C","c":"r","t":"s","x":82,"y":0.13},{"p":"C","c":"r","t":"s","x":89,"y":0.09},{"p":"C","c":"r","t":"s","x":99.6,"y":0.077},{"p":"C","c":"r","t":"s","x":119,"y":0.06},{"p":"C","c":"r","t":"s","x":147,"y":0.055},{"p":"C","c":"r","t":"s","x":172,"y":0.044},{"p":"C","c":"r","t":"s","x":200,"y":0.028},
{"p":"C","c":"k","t":"v","x":-17},{"p":"C","c":"k","t":"v","x":17},
{"p":"D","c":"b","t":"d","x":-200,"y":0.15},{"p":"D","c":"b","t":"d","x":-185,"y":0.2},{"p":"D","c":"b","t":"d","x":-170,"y":0.2},{"p":"D","c":"b","t":"d","x":-155,"y":0.22},{"p":"D","c":"b","t":"d","x":-140,"y":0.25},{"p":"D","c":"b","t":"d","x":-125,"y":0.28},{"p":"D","c":"b","t":"d","x":-110,"y":0.3},{"p":"D","c":"b","t":"d","x":-100,"y":0.3},{"p":"D","c":"b","t":"d","x":-90,"y":0.35},{"p":"D","c":"b","t":"d","x":-80,"y":0.4},{"p":"D","c":"b","t":"d","x":-70,"y":0.45},{"p":"D","c":"b","t":"d","x":-62,"y":0.55},{"p":"D","c":"b","t":"d","x":-56,"y":0.65},{"p":"D","c":"b","t":"d","x":-52,"y":0.72},{"p":"D","c":"b","t":"d","x":-48,"y":0.95},{"p":"D","c":"b","t":"d","x":-45,"y":0.85},{"p":"D","c":"b","t":"d","x":-42,"y":0.7},{"p":"D","c":"b","t":"d","x":-38,"y":0.6},{"p":"D","c":"b","t":"d","x":-34,"y":0.55},{"p":"D","c":"b","t":"d","x":-30,"y":0.62},{"p":"D","c":"b","t":"d","x":-26,"y":0.68},{"p":"D","c":"b","t":"d","x":-22,"y":0.5},{"p":"D","c":"b","t":"d","x":-18,"y":0.42},{"p":"D","c":"b","t":"d","x":-14,"y":0.35},{"p":"D","c":"b","t":"d","x":-10,"y":0.3},{"p":"D","c":"b","t":"d","x":-6,"y":0.3},{"p":"D","c":"b","t":"d","x":-2,"y":0.33},{"p":"D","c":"b","t":"d","x":2,"y":0.38},{"p":"D","c":"b","t":"d","x":6,"y":0.42},{"p":"D","c":"b","t":"d","x":10,"y":0.48},{"p":"D","c":"b","t":"d","x":14,"y":0.52},{"p":"D","c":"b","t":"d","x":18,"y":0.55},{"p":"D","c":"b","t":"d","x":22,"y":0.6},{"p":"D","c":"b","t":"d","x":27,"y":0.6},{"p":"D","c":"b","t":"d","x":32,"y":0.52},{"p":"D","c":"b","t":"d","x":37,"y":0.42},{"p":"D","c":"b","t":"d","x":42,"y":0.35},{"p":"D","c":"b","t":"d","x":48,"y":0.28},{"p":"D","c":"b","t":"d","x":55,"y":0.22},{"p":"D","c":"b","t":"d","x":63,"y":0.18},{"p":"D","c":"b","t":"d","x":72,"y":0.15},{"p":"D","c":"b","t":"d","x":85,"y":0.12},{"p":"D","c":"b","t":"d","x":100,"y":0.1},{"p":"D","c":"b","t":"d","x":120,"y":0.09},{"p":"D","c":"b","t":"d","x":140,"y":0.08},{"p":"D","c":"b","t":"d","x":160,"y":0.07},{"p":"D","c":"b","t":"d","x":180,"y":0.06},{"p":"D","c":"b","t":"d","x":200,"y":0.05},
{"p":"D","c":"r","t":"d","x":-200,"y":0.02},{"p":"D","c":"r","t":"d","x":-175,"y":0.03},{"p":"D","c":"r","t":"d","x":-150,"y":0.04},{"p":"D","c":"r","t":"d","x":-125,"y":0.06},{"p":"D","c":"r","t":"d","x":-105,"y":0.08},{"p":"D","c":"r","t":"d","x":-90,"y":0.12},{"p":"D","c":"r","t":"d","x":-78,"y":0.18},{"p":"D","c":"r","t":"d","x":-68,"y":0.25},{"p":"D","c":"r","t":"d","x":-60,"y":0.32},{"p":"D","c":"r","t":"d","x":-52,"y":0.4},{"p":"D","c":"r","t":"d","x":-46,"y":0.46},{"p":"D","c":"r","t":"d","x":-40,"y":0.52},{"p":"D","c":"r","t":"d","x":-35,"y":0.56},{"p":"D","c":"r","t":"d","x":-30,"y":0.58},{"p":"D","c":"r","t":"d","x":-26,"y":0.55},{"p":"D","c":"r","t":"d","x":-22,"y":0.5},{"p":"D","c":"r","t":"d","x":-18,"y":0.44},{"p":"D","c":"r","t":"d","x":-14,"y":0.36},{"p":"D","c":"r","t":"d","x":-10,"y":0.3},{"p":"D","c":"r","t":"d","x":-6,"y":0.3},{"p":"D","c":"r","t":"d","x":-2,"y":0.32},{"p":"D","c":"r","t":"d","x":2,"y":0.35},{"p":"D","c":"r","t":"d","x":6,"y":0.4},{"p":"D","c":"r","t":"d","x":10,"y":0.45},{"p":"D","c":"r","t":"d","x":14,"y":0.5},{"p":"D","c":"r","t":"d","x":18,"y":0.55},{"p":"D","c":"r","t":"d","x":23,"y":0.62},{"p":"D","c":"r","t":"d","x":28,"y":0.68},{"p":"D","c":"r","t":"d","x":33,"y":0.75},{"p":"D","c":"r","t":"d","x":38,"y":0.85},{"p":"D","c":"r","t":"d","x":42,"y":0.92},{"p":"D","c":"r","t":"d","x":45,"y":0.95},{"p":"D","c":"r","t":"d","x":48,"y":0.75},{"p":"D","c":"r","t":"d","x":52,"y":0.6},{"p":"D","c":"r","t":"d","x":56,"y":0.5},{"p":"D","c":"r","t":"d","x":60,"y":0.48},{"p":"D","c":"r","t":"d","x":66,"y":0.4},{"p":"D","c":"r","t":"d","x":72,"y":0.33},{"p":"D","c":"r","t":"d","x":80,"y":0.26},{"p":"D","c":"r","t":"d","x":90,"y":0.2},{"p":"D","c":"r","t":"d","x":100,"y":0.17},{"p":"D","c":"r","t":"d","x":115,"y":0.15},{"p":"D","c":"r","t":"d","x":130,"y":0.13},{"p":"D","c":"r","t":"d","x":150,"y":0.1},{"p":"D","c":"r","t":"d","x":175,"y":0.08},{"p":"D","c":"r","t":"d","x":200,"y":0.06},
{"p":"D","c":"b","t":"s","x":-200,"y":0.025},{"p":"D","c":"b","t":"s","x":-196,"y":0.05},{"p":"D","c":"b","t":"s","x":-190,"y":0.1},{"p":"D","c":"b","t":"s","x":-185,"y":0.04},{"p":"D","c":"b","t":"s","x":-182,"y":0.1},{"p":"D","c":"b","t":"s","x":-176,"y":0.06},{"p":"D","c":"b","t":"s","x":-166,"y":0.09},{"p":"D","c":"b","t":"s","x":-160,"y":0.053},{"p":"D","c":"b","t":"s","x":-157,"y":0.1},{"p":"D","c":"b","t":"s","x":-150,"y":0.13},{"p":"D","c":"b","t":"s","x":-146,"y":0.053},{"p":"D","c":"b","t":"s","x":-141,"y":0.12},{"p":"D","c":"b","t":"s","x":-136,"y":0.08},{"p":"D","c":"b","t":"s","x":-130,"y":0.13},{"p":"D","c":"b","t":"s","x":-125,"y":0.08},{"p":"D","c":"b","t":"s","x":-120,"y":0.14},{"p":"D","c":"b","t":"s","x":-113,"y":0.1},{"p":"D","c":"b","t":"s","x":-107,"y":0.11},{"p":"D","c":"b","t":"s","x":-100,"y":0.07},{"p":"D","c":"b","t":"s","x":-93,"y":0.075},{"p":"D","c":"b","t":"s","x":-90,"y":0.17},{"p":"D","c":"b","t":"s","x":-83,"y":0.2},{"p":"D","c":"b","t":"s","x":-76,"y":0.22},{"p":"D","c":"b","t":"s","x":-70,"y":0.28},{"p":"D","c":"b","t":"s","x":-65,"y":0.43},{"p":"D","c":"b","t":"s","x":-61.5,"y":0.37},{"p":"D","c":"b","t":"s","x":-58,"y":0.47},{"p":"D","c":"b","t":"s","x":-53,"y":0.58},{"p":"D","c":"b","t":"s","x":-49,"y":0.52},{"p":"D","c":"b","t":"s","x":-47.3,"y":1.0},{"p":"D","c":"b","t":"s","x":-44.5,"y":0.92},{"p":"D","c":"b","t":"s","x":-41,"y":0.78},{"p":"D","c":"b","t":"s","x":-38.5,"y":0.7},{"p":"D","c":"b","t":"s","x":-35,"y":0.56},{"p":"D","c":"b","t":"s","x":-31.5,"y":0.51},{"p":"D","c":"b","t":"s","x":-28,"y":0.73},{"p":"D","c":"b","t":"s","x":-24.4,"y":0.75},{"p":"D","c":"b","t":"s","x":-21,"y":0.44},{"p":"D","c":"b","t":"s","x":-17,"y":0.28},{"p":"D","c":"b","t":"s","x":-14,"y":0.15},{"p":"D","c":"b","t":"s","x":-8.5,"y":0.17},{"p":"D","c":"b","t":"s","x":-5,"y":0.086},{"p":"D","c":"b","t":"s","x":-1.4,"y":0.13},{"p":"D","c":"b","t":"s","x":2,"y":0.1},{"p":"D","c":"b","t":"s","x":7.4,"y":0.23},{"p":"D","c":"b","t":"s","x":12.7,"y":0.28},{"p":"D","c":"b","t":"s","x":18,"y":0.34},{"p":"D","c":"b","t":"s","x":23,"y":0.44},{"p":"D","c":"b","t":"s","x":27,"y":0.51},{"p":"D","c":"b","t":"s","x":30,"y":0.37},{"p":"D","c":"b","t":"s","x":34,"y":0.35},{"p":"D","c":"b","t":"s","x":37.5,"y":0.19},{"p":"D","c":"b","t":"s","x":43,"y":0.14},{"p":"D","c":"b","t":"s","x":50,"y":0.064},{"p":"D","c":"b","t":"s","x":55,"y":0.11},{"p":"D","c":"b","t":"s","x":62,"y":0.03},{"p":"D","c":"b","t":"s","x":73,"y":0.04},{"p":"D","c":"b","t":"s","x":83,"y":0.03},{"p":"D","c":"b","t":"s","x":94,"y":0.064},{"p":"D","c":"b","t":"s","x":104.6,"y":0.02},{"p":"D","c":"b","t":"s","x":118.7,"y":0.036},{"p":"D","c":"b","t":"s","x":129,"y":0.015},{"p":"D","c":"b","t":"s","x":143,"y":0.03},{"p":"D","c":"b","t":"s","x":157.6,"y":0.014},{"p":"D","c":"b","t":"s","x":171.7,"y":0.03},{"p":"D","c":"b","t":"s","x":186,"y":0.009},{"p":"D","c":"b","t":"s","x":200,"y":0.025},
{"p":"D","c":"r","t":"s","x":-200,"y":0.003},{"p":"D","c":"r","t":"s","x":-150,"y":0.005},{"p":"D","c":"r","t":"s","x":-107,"y":0.014},{"p":"D","c":"r","t":"s","x":-90,"y":0.02},{"p":"D","c":"r","t":"s","x":-72,"y":0.036},{"p":"D","c":"r","t":"s","x":-61.5,"y":0.053},{"p":"D","c":"r","t":"s","x":-51,"y":0.086},{"p":"D","c":"r","t":"s","x":-44,"y":0.14},{"p":"D","c":"r","t":"s","x":-38.5,"y":0.22},{"p":"D","c":"r","t":"s","x":-35,"y":0.35},{"p":"D","c":"r","t":"s","x":-31.5,"y":0.47},{"p":"D","c":"r","t":"s","x":-28,"y":0.42},{"p":"D","c":"r","t":"s","x":-22.6,"y":0.33},{"p":"D","c":"r","t":"s","x":-19,"y":0.22},{"p":"D","c":"r","t":"s","x":-12,"y":0.11},{"p":"D","c":"r","t":"s","x":-5,"y":0.097},{"p":"D","c":"r","t":"s","x":2,"y":0.086},{"p":"D","c":"r","t":"s","x":5.7,"y":0.2},{"p":"D","c":"r","t":"s","x":12.7,"y":0.34},{"p":"D","c":"r","t":"s","x":19.8,"y":0.36},{"p":"D","c":"r","t":"s","x":23,"y":0.46},{"p":"D","c":"r","t":"s","x":30,"y":0.44},{"p":"D","c":"r","t":"s","x":34,"y":0.56},{"p":"D","c":"r","t":"s","x":39,"y":0.78},{"p":"D","c":"r","t":"s","x":44.5,"y":1.0},{"p":"D","c":"r","t":"s","x":48,"y":0.73},{"p":"D","c":"r","t":"s","x":51.6,"y":0.37},{"p":"D","c":"r","t":"s","x":55,"y":0.35},{"p":"D","c":"r","t":"s","x":58.7,"y":0.34},{"p":"D","c":"r","t":"s","x":64,"y":0.28},{"p":"D","c":"r","t":"s","x":69,"y":0.16},{"p":"D","c":"r","t":"s","x":76,"y":0.12},{"p":"D","c":"r","t":"s","x":83,"y":0.086},{"p":"D","c":"r","t":"s","x":90,"y":0.042},{"p":"D","c":"r","t":"s","x":101,"y":0.053},{"p":"D","c":"r","t":"s","x":111.6,"y":0.03},{"p":"D","c":"r","t":"s","x":122,"y":0.025},{"p":"D","c":"r","t":"s","x":140,"y":0.04},{"p":"D","c":"r","t":"s","x":157.6,"y":0.02},{"p":"D","c":"r","t":"s","x":175,"y":0.03},{"p":"D","c":"r","t":"s","x":200,"y":0.025},
{"p":"D","c":"k","t":"v","x":-16},{"p":"D","c":"k","t":"v","x":16}
]},
"columns": 2,
"bounds": "flush",
"spacing": {"row": 252, "column": 170},
"resolve": {"scale": {"x": "independent", "y": "independent", "color": "independent", "strokeDash": "independent"}, "legend": {"strokeDash": "independent"}},
"concat": [
{
 "title": {"text": "A", "anchor": "start", "frame": "bounds", "font": "Open Sans", "fontSize": 22, "fontWeight": "normal", "color": "#111", "baseline": "alphabetic", "offset": -40, "dx": 18},
 "width": 408, "height": 326,
 "transform": [{"filter": "datum.p === 'A'"}],
 "encoding": {"x": {"field": "x", "type": "quantitative", "scale": {"domain": [-216, 216], "nice": false, "zero": false},
   "axis": {"orient": "top", "title": ["First quantile (0–25%)", "strongest bindings"], "titlePadding": 39}}},
 "layer": [
  {"transform": [{"filter": "datum.t === 'v'"}], "mark": {"type": "rule", "color": "#111", "strokeWidth": 1.6, "strokeDash": [1.6, 7.5]}, "encoding": {}},
  {"transform": [{"filter": "datum.t === 'd'"}], "mark": {"type": "line", "interpolate": "step-after", "strokeWidth": 2, "strokeDash": [1.5, 4], "strokeOpacity": 0.5, "clip": true},
   "encoding": {"y": {"field": "y", "type": "quantitative", "scale": {"domain": [-0.04, 1.04], "nice": false, "zero": false}, "axis": {"values": [0, 0.2, 0.4, 0.6, 0.8, 1], "format": ".1f", "title": "Average ChIP–exo signal"}},
    "color": {"field": "c", "type": "nominal", "scale": {"domain": ["b", "r"], "range": ["#1a3cff", "#ff2e1a"]}, "legend": null}}},
  {"transform": [{"filter": "datum.t === 's'"}], "mark": {"type": "line", "interpolate": "step-after", "strokeWidth": 2, "clip": true},
   "encoding": {"y": {"field": "y", "type": "quantitative", "scale": {"domain": [-0.04, 1.04], "nice": false, "zero": false}, "axis": {"values": [0, 0.2, 0.4, 0.6, 0.8, 1], "format": ".1f", "title": "Average ChIP–exo signal"}},
    "color": {"field": "c", "type": "nominal", "scale": {"domain": ["b", "r"], "range": ["#1a3cff", "#ff2e1a"]}, "legend": null}}},
  {"transform": [{"filter": "datum.t !== 'v' && datum.x === -200"}], "mark": {"type": "line", "opacity": 0},
   "encoding": {"y": {"field": "y", "type": "quantitative", "scale": {"domain": [-0.04, 1.04], "nice": false, "zero": false}, "axis": {"values": [0, 0.2, 0.4, 0.6, 0.8, 1], "format": ".1f", "title": "Average ChIP–exo signal"}},
    "detail": {"field": "c"},
    "strokeDash": {"field": "t", "type": "nominal", "scale": {"domain": ["s", "d"], "range": [[1, 0], [17, 10]]},
      "legend": {"orient": "none", "legendX": 11, "legendY": 13, "title": null, "direction": "vertical", "symbolType": "M-2.3,0H2.3", "symbolSize": 400, "symbolOffset": 16, "symbolStrokeWidth": 4, "symbolStrokeColor": "#000", "symbolFillColor": "transparent", "symbolOpacity": 1, "labelFont": "Liberation Sans", "labelFontSize": 22, "labelColor": "#111", "labelOffset": 32, "labelLimit": 0, "padding": 14, "rowPadding": 4, "strokeColor": "#222",
        "labelExpr": "datum.value === 's' ? 'Rep123' : 'Rep12, Rep13 and Rep23'"}}}}
 ]
},
{
 "title": {"text": "B", "anchor": "start", "frame": "bounds", "font": "Open Sans", "fontSize": 22, "fontWeight": "normal", "color": "#111", "baseline": "alphabetic", "offset": -20.5, "dx": 2},
 "width": 408, "height": 326,
 "transform": [{"filter": "datum.p === 'B'"}],
 "encoding": {"x": {"field": "x", "type": "quantitative", "scale": {"domain": [-216, 216], "nice": false, "zero": false},
   "axis": {"orient": "top", "title": "Second quantile (25–50%)", "titlePadding": 56, "titleX": 201}}},
 "layer": [
  {"transform": [{"filter": "datum.t === 'v'"}], "mark": {"type": "rule", "color": "#111", "strokeWidth": 1.6, "strokeDash": [1.6, 7.5]}, "encoding": {}},
  {"transform": [{"filter": "datum.t === 'd'"}], "mark": {"type": "line", "interpolate": "step-after", "strokeWidth": 2, "strokeDash": [1.5, 4], "strokeOpacity": 0.5, "clip": true},
   "encoding": {"y": {"field": "y", "type": "quantitative", "scale": {"domain": [-0.04, 1.04], "nice": false, "zero": false}, "axis": {"values": [0, 0.2, 0.4, 0.6, 0.8, 1], "format": ".1f", "title": "Average ChIP–exo signal"}},
    "color": {"field": "c", "type": "nominal", "scale": {"domain": ["b", "r"], "range": ["#1a3cff", "#ff2e1a"]}, "legend": null}}},
  {"transform": [{"filter": "datum.t === 's'"}], "mark": {"type": "line", "interpolate": "step-after", "strokeWidth": 2, "clip": true},
   "encoding": {"y": {"field": "y", "type": "quantitative", "scale": {"domain": [-0.04, 1.04], "nice": false, "zero": false}, "axis": {"values": [0, 0.2, 0.4, 0.6, 0.8, 1], "format": ".1f", "title": "Average ChIP–exo signal"}},
    "color": {"field": "c", "type": "nominal", "scale": {"domain": ["b", "r"], "range": ["#1a3cff", "#ff2e1a"]}, "legend": null}}}
 ]
},
{
 "title": {"text": "C", "anchor": "start", "frame": "bounds", "font": "Open Sans", "fontSize": 22, "fontWeight": "normal", "color": "#111", "baseline": "alphabetic", "offset": 31, "dx": 11},
 "width": 408, "height": 326,
 "transform": [{"filter": "datum.p === 'C'"}],
 "encoding": {"x": {"field": "x", "type": "quantitative", "scale": {"domain": [-216, 216], "nice": false, "zero": false},
   "axis": {"orient": "top", "title": "Third quantile (50–75%)", "titlePadding": 51}}},
 "layer": [
  {"transform": [{"filter": "datum.t === 'v'"}], "mark": {"type": "rule", "color": "#111", "strokeWidth": 1.6, "strokeDash": [1.6, 7.5]}, "encoding": {}},
  {"transform": [{"filter": "datum.t === 'd'"}], "mark": {"type": "line", "interpolate": "step-after", "strokeWidth": 2, "strokeDash": [1.5, 4], "strokeOpacity": 0.5, "clip": true},
   "encoding": {"y": {"field": "y", "type": "quantitative", "scale": {"domain": [-0.04, 1.04], "nice": false, "zero": false}, "axis": {"values": [0, 0.2, 0.4, 0.6, 0.8, 1], "format": ".1f", "title": "Average ChIP–exo signal"}},
    "color": {"field": "c", "type": "nominal", "scale": {"domain": ["b", "r"], "range": ["#1a3cff", "#ff2e1a"]}, "legend": null}}},
  {"transform": [{"filter": "datum.t === 's'"}], "mark": {"type": "line", "interpolate": "step-after", "strokeWidth": 2, "clip": true},
   "encoding": {"y": {"field": "y", "type": "quantitative", "scale": {"domain": [-0.04, 1.04], "nice": false, "zero": false}, "axis": {"values": [0, 0.2, 0.4, 0.6, 0.8, 1], "format": ".1f", "title": "Average ChIP–exo signal"}},
    "color": {"field": "c", "type": "nominal", "scale": {"domain": ["b", "r"], "range": ["#1a3cff", "#ff2e1a"]}, "legend": null}}}
 ]
},
{
 "title": {"text": "D", "anchor": "start", "frame": "bounds", "font": "Open Sans", "fontSize": 22, "fontWeight": "normal", "color": "#111", "baseline": "alphabetic", "offset": 3, "dx": -5},
 "width": 408, "height": 326,
 "transform": [{"filter": "datum.p === 'D'"}],
 "encoding": {"x": {"field": "x", "type": "quantitative", "scale": {"domain": [-216, 216], "nice": false, "zero": false},
   "axis": {"orient": "top", "title": ["Fourth quantile (75–100%)", "weakest bindings"], "titlePadding": 42}}},
 "layer": [
  {"transform": [{"filter": "datum.t === 'v'"}], "mark": {"type": "rule", "color": "#111", "strokeWidth": 1.6, "strokeDash": [1.6, 7.5]}, "encoding": {}},
  {"transform": [{"filter": "datum.t === 'd'"}], "mark": {"type": "line", "interpolate": "step-after", "strokeWidth": 2, "strokeDash": [1.5, 4], "strokeOpacity": 0.5, "clip": true},
   "encoding": {"y": {"field": "y", "type": "quantitative", "scale": {"domain": [-0.04, 1.04], "nice": false, "zero": false}, "axis": {"values": [0, 0.2, 0.4, 0.6, 0.8, 1], "format": ".1f", "title": "Average ChIP–exo signal"}},
    "color": {"field": "c", "type": "nominal", "scale": {"domain": ["b", "r"], "range": ["#1a3cff", "#ff2e1a"]}, "legend": null}}},
  {"transform": [{"filter": "datum.t === 's'"}], "mark": {"type": "line", "interpolate": "step-after", "strokeWidth": 2, "clip": true},
   "encoding": {"y": {"field": "y", "type": "quantitative", "scale": {"domain": [-0.04, 1.04], "nice": false, "zero": false}, "axis": {"values": [0, 0.2, 0.4, 0.6, 0.8, 1], "format": ".1f", "title": "Average ChIP–exo signal"}},
    "color": {"field": "c", "type": "nominal", "scale": {"domain": ["b", "r"], "range": ["#1a3cff", "#ff2e1a"]}, "legend": null}}}
 ]
}
],
"config": {
 "view": {"stroke": "#222", "strokeWidth": 1.4},
 "axisTop": {"labels": false, "ticks": false, "domain": false, "grid": false, "titleFont": "Liberation Sans", "titleFontSize": 27, "titleFontWeight": "bold", "titleColor": "#000", "titleBaseline": "middle", "titleLineHeight": 31},
 "axisLeft": {"grid": false, "domain": false, "tickSize": 15, "tickColor": "#222", "tickWidth": 1.3, "labelAngle": 270, "labelAlign": "center", "labelBaseline": "alphabetic", "labelPadding": 17, "labelFlush": false, "labelOverlap": false, "labelFont": "Liberation Sans", "labelFontSize": 23, "labelColor": "#111", "titleFont": "Liberation Sans", "titleFontSize": 23, "titleFontWeight": "normal", "titleColor": "#111", "titleAngle": 270, "titleAlign": "center", "titleBaseline": "alphabetic", "titlePadding": 35}
}
}
